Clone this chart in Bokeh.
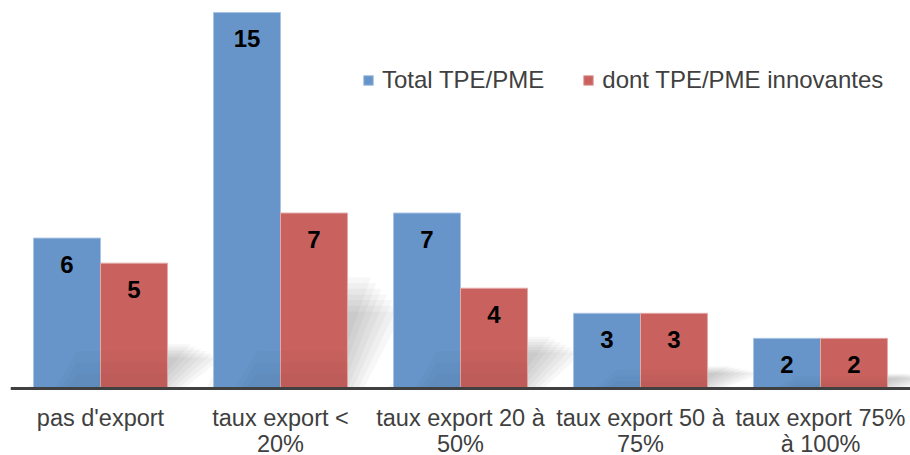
from bokeh.plotting import figure
from bokeh.models import Range1d, Legend, LegendItem, ColumnDataSource, Span
from bokeh.core.properties import value
from bokeh.embed import file_html
from bokeh.resources import INLINE

categories = ["pas d'export", "taux export <\n20%", "taux export 20 à\n50%",
              "taux export 50 à\n75%", "taux export 75%\nà 100%"]
series_names = ["Total TPE/PME", "dont TPE/PME innovantes"]
total_vals = [6, 15, 7, 3, 2]
innov_vals = [5, 7, 4, 3, 2]

BLUE = "#6795C9"
RED = "#C9625F"
FONT = "Liberation Sans"

W, H = 910, 455
LEFT, TOP, BOTTOM_Y = 10, 10, 388
p = figure(width=W, height=H, output_backend="svg", toolbar_location=None,
           min_border_left=LEFT, min_border_right=0, min_border_top=TOP,
           min_border_bottom=0)
px_per_cat = 180.0
px_per_unit = 376.0 / 15.0
frame_w = W - LEFT
p.x_range = Range1d(-0.5, -0.5 + frame_w / px_per_cat)
p.y_range = Range1d(-(H - BOTTOM_Y) / px_per_unit, (BOTTOM_Y - TOP) / px_per_unit)

xs = list(range(len(categories)))
off = 0.186
bw = 0.372

# soft cast shadows behind each group (blur approximated with layered translucent shapes)
shear = 0.22
for i in xs:
    hmax = max(total_vals[i], innov_vals[i])
    hs = 0.25 * hmax
    x0 = i - off - bw / 2 + 0.05
    x1 = i + off + bw / 2
    for k in range(7):
        g = 0.03 * (k - 3)
        hk = hs * (1 - 0.06 * (k - 3))
        p.patch([x0 - g, x1 + g, x1 + shear + g, x0 + shear - g],
                [0, 0, hk, hk],
                fill_color="black", fill_alpha=0.03, line_color=None)

src = ColumnDataSource(dict(x=xs, t=total_vals, n=innov_vals,
                            xb=[x - off for x in xs], xr=[x + off for x in xs]))
rb = p.vbar(x="xb", top="t", bottom=0, width=bw, source=src, fill_color=BLUE,
            line_color="#A9C3E3", line_width=1)
rr = p.vbar(x="xr", top="n", bottom=0, width=bw, source=src, fill_color=RED,
            line_color="#E3AAA8", line_width=1)

# slight darkening of the bars' lower part where the shadow falls
for i in xs:
    hmax = max(total_vals[i], innov_vals[i])
    hs = min(0.25 * hmax, 1.5)
    x0 = i - off - bw / 2 + 0.12
    x1 = i + off + bw / 2
    for s in [1.0, 0.7, 0.4]:
        p.patch([x0 + 0.1 * (1 - s), x0 + 0.12, x1, x1],
                [0, hs * s, hs * s, 0],
                fill_color="black", fill_alpha=0.02, line_color=None)

lab_font = "24px"
p.text(x="xb", y="t", text="t", source=src, text_font=value(FONT), text_font_style="bold",
       text_font_size=lab_font, text_align="center", text_baseline="middle",
       y_offset=26, text_color="black")
p.text(x="xr", y="n", text="n", source=src, text_font=value(FONT), text_font_style="bold",
       text_font_size=lab_font, text_align="center", text_baseline="middle",
       y_offset=26, text_color="black")

# baseline (category axis line)
p.add_layout(Span(location=0, dimension="width", line_color="#404040", line_width=3))

p.xaxis.visible = False
p.yaxis.visible = False
p.xgrid.visible = False
p.ygrid.visible = False
p.outline_line_color = None

# category labels (two lines) below the axis line
line_offsets_px = [29, 55]
lx, ly, lt = [], [], []
for i, c in enumerate(categories):
    for j, line in enumerate(c.split("\n")):
        lx.append(i)
        ly.append(-line_offsets_px[j] / px_per_unit)
        lt.append(line)
p.text(x=lx, y=ly, text=lt, text_font=value(FONT), text_font_size="23.5px",
       text_color="#404040", text_align="center", text_baseline="alphabetic")

legend = Legend(items=[LegendItem(label=series_names[0], renderers=[rb]),
                       LegendItem(label=series_names[1], renderers=[rr])],
                orientation="horizontal", location=(352, 361),
                glyph_width=12, glyph_height=12, label_standoff=8, spacing=38,
                padding=0, margin=0, border_line_color=None, background_fill_alpha=0,
                label_text_font=FONT, label_text_font_size="24px",
                label_text_color="#404040")
p.add_layout(legend)

open("out.html", "w").write(file_html(p, INLINE))
